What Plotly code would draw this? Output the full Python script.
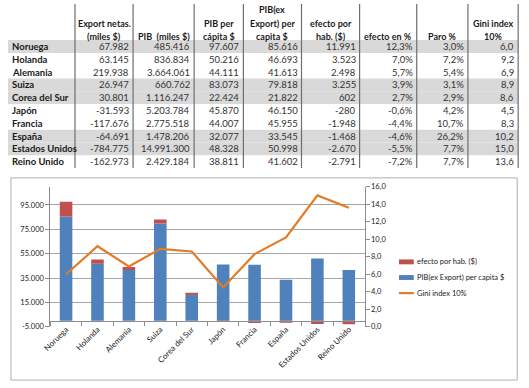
import plotly.graph_objects as go

W, H = 529, 388

countries = ["Noruega", "Holanda", "Alemania", "Suiza", "Corea del Sur", "Japón",
             "Francia", "España", "Estados Unidos", "Reino Unido"]
export_netas = [67982, 63145, 219938, 26947, 30801, -31593, -117676, -64691, -784775, -162973]
pib_miles = [485416, 836834, 3664061, 660762, 1116247, 5203784, 2775518, 1478206, 14991300, 2429184]
pib_per_capita = [97607, 50216, 44111, 83073, 22424, 45870, 44007, 32077, 48328, 38811]
pib_ex_export = [85616, 46693, 41613, 79818, 21822, 46150, 45955, 33545, 50998, 41602]
efecto_hab = [11991, 3523, 2498, 3255, 602, -280, -1948, -1468, -2670, -2791]
efecto_pct = [12.3, 7.0, 5.7, 3.9, 2.7, -0.6, -4.4, -4.6, -5.5, -7.2]
paro_pct = [3.0, 7.2, 5.4, 3.1, 2.9, 4.2, 10.7, 26.2, 7.7, 7.7]
gini = [6.0, 9.2, 6.9, 8.9, 8.6, 4.5, 8.3, 10.2, 15.0, 13.6]
shaded_rows = ["Noruega", "Suiza", "Corea del Sur", "España", "Estados Unidos"]

headers = [
    ["Export netas.", "(miles $)"],
    ["PIB  (miles $)"],
    ["PIB per", "cápita $"],
    ["PIB(ex", "Export) per", "capita $"],
    ["efecto por", "hab. ($)"],
    ["efecto en %"],
    ["Paro %"],
    ["Gini index", "10%"],
]
left_ticks = [-5000, 15000, 35000, 55000, 75000, 95000]
right_ticks = [0, 2, 4, 6, 8, 10, 12, 14, 16]

BLUE, RED, ORANGE = "#4F81BD", "#C0504D", "#E47B25"
legend_items = [("efecto por hab. ($)", RED, "bar"),
                ("PIB(ex Export) per capita $", BLUE, "bar"),
                ("Gini index 10%", ORANGE, "line")]


def fmt_int(v):
    s = f"{abs(v):,}".replace(",", ".")
    return ("-" if v < 0 else "") + s


def fmt_dec(v, pct=False):
    s = f"{v:.1f}".replace(".", ",")
    return s + ("%" if pct else "")


def px(x):
    return x / W


def py(y):
    return 1 - y / H


FONT = "Lato"
fig = go.Figure()

fig.add_trace(go.Bar(x=countries, y=pib_ex_export, name="PIB(ex Export) per capita $",
                     marker_color=BLUE, marker_line_width=0, yaxis="y"))
fig.add_trace(go.Bar(x=countries, y=efecto_hab, name="efecto por hab. ($)",
                     marker_color=RED, marker_line_width=0, yaxis="y"))
fig.add_trace(go.Scatter(x=countries, y=gini, name="Gini index 10%", mode="lines",
                         line=dict(color=ORANGE, width=2.2), yaxis="y2"))

shapes = []
annotations = []

# table shading
col_b = [0, 68, 127, 189, 239, 298, 357, 415, 467, 518]
row0, rh = 43.5, 13.1
for i, c in enumerate(countries):
    if c in shaded_rows:
        yc = row0 + rh * i
        shapes.append(dict(type="rect", xref="paper", yref="paper", x0=px(0), x1=px(518),
                           y0=py(yc + rh / 2), y1=py(yc - rh / 2),
                           fillcolor="#D9D9D9", line_width=0, layer="below"))
# vertical lines
for xb in col_b[1:]:
    shapes.append(dict(type="line", xref="paper", yref="paper", x0=px(xb), x1=px(xb),
                       y0=py(0), y1=py(168), line=dict(color="#6E6E6E", width=1.2)))

# headers
line_y = [33, 20, 6]
for j, h in enumerate(headers):
    xc = (col_b[j + 1] + col_b[j + 2]) / 2
    for k, t in enumerate(reversed(h)):
        annotations.append(dict(x=px(xc), y=py(line_y[k]), xref="paper", yref="paper",
                                text=f"<b>{t}</b>", showarrow=False, xanchor="center",
                                yanchor="middle", font=dict(family=FONT, size=9, color="#1a1a1a")))

# rows
for i, c in enumerate(countries):
    yc = row0 + rh * i
    annotations.append(dict(x=px(2), y=py(yc), xref="paper", yref="paper",
                            text=f"<b>{c}</b>", showarrow=False, xanchor="left", yanchor="middle",
                            font=dict(family=FONT, size=9.5, color="#1a1a1a")))
    vals = [fmt_int(export_netas[i]), fmt_int(pib_miles[i]), fmt_int(pib_per_capita[i]),
            fmt_int(pib_ex_export[i]), fmt_int(efecto_hab[i]), fmt_dec(efecto_pct[i], True),
            fmt_dec(paro_pct[i], True), fmt_dec(gini[i])]
    for j, v in enumerate(vals):
        annotations.append(dict(x=px(col_b[j + 2] - 2), y=py(yc), xref="paper", yref="paper",
                                text=v, showarrow=False, xanchor="right", yanchor="middle",
                                font=dict(family=FONT, size=9.5, color="#333333")))

# chart border
shapes.append(dict(type="rect", xref="paper", yref="paper", x0=px(3), x1=px(517),
                   y0=py(385), y1=py(178), line=dict(color="#B0B0B0", width=1), layer="below"))

# legend (drawn manually to match spacing)
for k, (name, col, kind) in enumerate(legend_items):
    yc = 264 + 16 * k
    if kind == "bar":
        shapes.append(dict(type="rect", xref="paper", yref="paper", x0=px(397), x1=px(412),
                           y0=py(yc + 2.5), y1=py(yc - 2.5), fillcolor=col, line_width=0))
    else:
        shapes.append(dict(type="line", xref="paper", yref="paper", x0=px(397), x1=px(412),
                           y0=py(yc), y1=py(yc), line=dict(color=col, width=2.2)))
    annotations.append(dict(x=px(413), y=py(yc), xref="paper", yref="paper", text=name,
                            showarrow=False, xanchor="left", yanchor="middle",
                            font=dict(family=FONT, size=7.5, color="#1a1a1a")))

plot_top, plot_bot = 187, 330.5
lo, hi = -5000, 110000
zero_pix = plot_bot - (0 - lo) / (hi - lo) * (plot_bot - plot_top)

fig.update_layout(
    width=W, height=H, margin=dict(l=0, r=0, t=0, b=0),
    paper_bgcolor="white", plot_bgcolor="white",
    separators=",.", showlegend=False,
    barmode="relative", bargap=0.6,
    font=dict(family=FONT, size=8, color="#333333"),
    shapes=shapes, annotations=annotations,
    xaxis=dict(domain=[px(43), px(362)], anchor="free", position=py(zero_pix),
               showline=True, linecolor="#8C8C8C", linewidth=1, ticks="outside",
               tickson="boundaries", ticklen=4, tickcolor="#8C8C8C", tickangle=-45,
               tickfont=dict(family=FONT, size=8, color="#1a1a1a"), showgrid=False),
    yaxis=dict(domain=[py(plot_bot), py(plot_top)], range=[lo, hi], tickvals=left_ticks,
               ticktext=[fmt_int(v) for v in left_ticks], showgrid=True, gridcolor="#A6A6A6",
               gridwidth=1, showline=True, linecolor="#8C8C8C", ticks="outside", ticklen=4,
               tickcolor="#8C8C8C", zeroline=False, tickfont=dict(family=FONT, size=7.5, color="#1a1a1a")),
    yaxis2=dict(overlaying="y", side="right", anchor="x", range=[0, 16], tickvals=right_ticks,
                ticktext=[fmt_dec(v) for v in right_ticks], showgrid=False, showline=True,
                linecolor="#8C8C8C", ticks="outside", ticklen=4, tickcolor="#8C8C8C",
                zeroline=False, tickfont=dict(family=FONT, size=7.5, color="#1a1a1a")),
)

fig.write_html("out.html", config={"displayModeBar": False},
               post_script="document.body.style.margin='0';document.body.style.padding='0';")
